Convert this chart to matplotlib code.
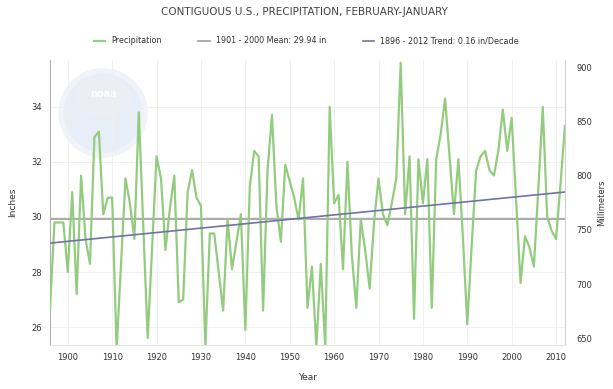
import numpy as np
import matplotlib.pyplot as plt
from matplotlib.patches import Ellipse

# Feb-Jan precipitation totals, contiguous U.S. (inches)
years = list(range(1896, 2013))
precip = [
    26.7, 29.8, 29.8, 29.8, 28.0, 30.9, 27.2, 31.5, 29.2, 28.3,   # 1896-1905
    32.9, 33.1, 30.1, 30.7, 30.7, 25.2, 28.3, 31.4, 30.5, 29.2,   # 1906-1915
    33.8, 29.7, 25.6, 28.9, 32.2, 31.4, 28.8, 30.3, 31.5, 26.9,   # 1916-1925
    27.0, 30.9, 31.7, 30.7, 30.4, 25.3, 29.4, 29.4, 28.0, 26.6,   # 1926-1935
    29.9, 28.1, 29.1, 30.1, 25.9, 31.1, 32.4, 32.2, 26.6, 31.7,   # 1936-1945
    33.7, 30.4, 29.1, 31.9, 31.3, 30.7, 29.9, 31.4, 26.7, 28.2,   # 1946-1955
    25.3, 28.3, 25.3, 34.0, 30.5, 30.8, 28.1, 32.0, 28.6, 26.7,   # 1956-1965
    29.9, 28.8, 27.4, 29.8, 31.4, 30.1, 29.7, 30.5, 31.4, 35.6,   # 1966-1975
    30.1, 32.2, 26.3, 32.1, 30.5, 32.1, 26.7, 32.1, 33.0, 34.3,   # 1976-1985
    32.2, 30.1, 32.1, 29.3, 26.1, 29.0, 31.7, 32.2, 32.4, 31.7,   # 1986-1995
    31.5, 32.4, 33.9, 32.4, 33.6, 30.6, 27.6, 29.3, 28.9, 28.2,   # 1996-2005
    31.0, 34.0, 30.0, 29.5, 29.2, 31.2, 33.3,                     # 2006-2012
]
mean_1901_2000 = 29.94
trend_start = 29.05      # trend value at 1896
trend_rate = 0.16        # inches per decade

x_ticks = list(range(1900, 2011, 10))
in_ticks = [26, 28, 30, 32, 34]
mm_ticks = [650, 700, 750, 800, 850, 900]

yrs = np.array(years)
trend = trend_start + trend_rate / 10.0 * (yrs - yrs[0])

fig = plt.figure(figsize=(6.13, 3.89), dpi=100)
ax = fig.add_axes([0.0816, 0.1131, 0.840, 0.7327])

txt = '#333333'
ax.plot(years, precip, color='#93cc7f', lw=1.6, zorder=3, label='Precipitation')
ax.axhline(mean_1901_2000, color='#9c9c9c', lw=1.2, zorder=2,
           label='1901 - 2000 Mean: 29.94 in')
ax.plot(years, trend, color='#6f73a8', lw=1.2, zorder=4,
        label='1896 - 2012 Trend: 0.16 in/Decade')

ax.set_xlim(1896, 2012)
ax.set_ylim(25.35, 35.7)
ax.set_xticks(x_ticks)
ax.set_yticks(in_ticks)
ax.tick_params(axis='both', length=0, labelsize=6, colors=txt, pad=6)
ax.grid(True, color='#f0f0f0', lw=0.7)
ax.set_axisbelow(True)
ax.spines['top'].set_visible(False)
ax.spines['bottom'].set_color('#e4e4e4')
ax.spines['left'].set_color('#b0b0b0')
ax.spines['right'].set_color('#d0d0d0')
ax.set_xlabel('Year', fontsize=6.5, color=txt, labelpad=8)
ax.set_ylabel('Inches', fontsize=6.5, color=txt, labelpad=10)

sec = ax.secondary_yaxis('right', functions=(lambda v: v * 25.4, lambda v: v / 25.4))
sec.set_yticks(mm_ticks)
sec.tick_params(length=0, labelsize=6, colors=txt, pad=8)
sec.spines['right'].set_visible(False)
sec.set_ylabel('Millimeters', fontsize=6, color=txt, labelpad=4)

# faint agency logo behind the data (ellipse sizes keep it round on screen)
ax.add_patch(Ellipse((0.103, 0.814), 0.163, 0.295, transform=ax.transAxes,
                     facecolor='#e7eef7', edgecolor='#f0f3f7', lw=4, zorder=0))
ax.add_patch(Ellipse((0.103, 0.87), 0.11, 0.14, transform=ax.transAxes,
                     facecolor='#eceef3', edgecolor='none', zorder=0))
ax.text(0.103, 0.88, 'noaa', transform=ax.transAxes, ha='center', va='center',
        fontsize=7, color='white', fontweight='bold', zorder=0)

fig.text(0.497, 0.968, 'CONTIGUOUS U.S., PRECIPITATION, FEBRUARY-JANUARY',
         ha='center', va='center', fontsize=7.5, color='#444444')
fig.legend(loc='center', bbox_to_anchor=(0.5, 0.895), ncol=3, frameon=False,
           fontsize=5.8, handlelength=1.4, columnspacing=4.5, labelcolor=txt)

fig.savefig('out.png', dpi=100)
